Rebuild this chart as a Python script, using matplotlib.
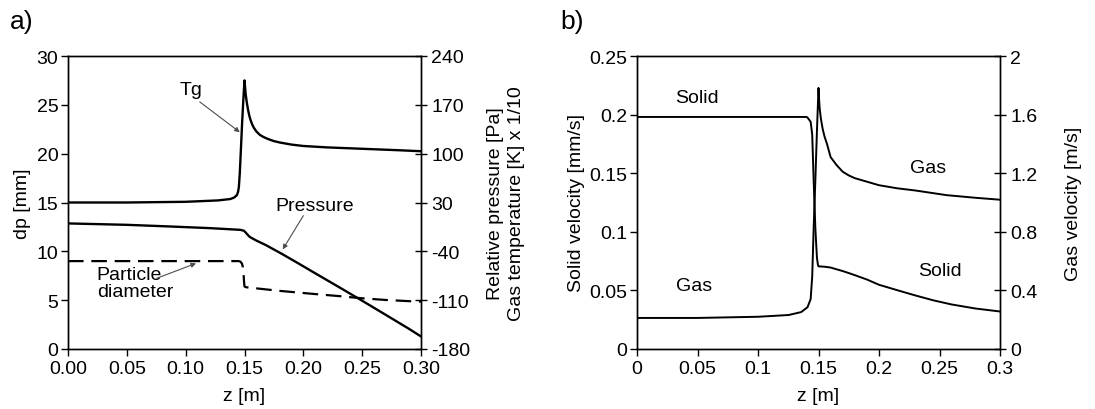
import numpy as np
import matplotlib
matplotlib.use("Agg")
import matplotlib.pyplot as plt

plt.rcParams['font.family'] = ['Liberation Sans', 'DejaVu Sans']
plt.rcParams['font.size'] = 14
plt.rcParams['axes.unicode_minus'] = False

# ---- panel a: bed profiles along z ----
z_tg = [0, 0.05, 0.10, 0.1276, 0.138, 0.1411, 0.1435, 0.1445, 0.1452, 0.146, 0.147, 0.148,
        0.149, 0.150, 0.1505, 0.151, 0.152, 0.153, 0.154, 0.155, 0.1565, 0.158, 0.160,
        0.163, 0.166, 0.170, 0.175, 0.180, 0.19, 0.20, 0.22, 0.25, 0.28, 0.30]
tg = [30, 30, 31, 33, 35, 37, 40.5, 45, 52, 72, 108, 145,
      177, 205, 195, 185, 173, 163, 155, 149, 142, 137, 132,
      127, 124, 121, 118, 116, 113, 111, 109, 107, 105, 103.5]   # K x 1/10

z_p = [0, 0.05, 0.087, 0.12, 0.1465, 0.1495, 0.151, 0.1525, 0.1546, 0.16, 0.1681, 0.1816,
       0.195, 0.2086, 0.23, 0.2492, 0.27, 0.2897, 0.30]
pressure = [0, -2, -4.4, -6.7, -9.2, -10.5, -13, -16, -19.5, -24.5, -31, -43.5,
            -56.5, -70, -91, -110, -131, -151, -162]   # Pa

z_dp = [0, 0.145, 0.1465, 0.1478, 0.1486, 0.1492, 0.1496, 0.1500, 0.1515, 0.18,
        0.2086, 0.23, 0.2492, 0.27, 0.2897, 0.30]
dp = [9.0, 9.0, 8.95, 8.75, 8.4, 7.7, 6.9, 6.4, 6.32, 5.95,
      5.64, 5.42, 5.2, 5.02, 4.9, 4.85]           # mm

# ---- panel b: velocities ----
z_gas = [0, 0.05, 0.1, 0.1253, 0.1357, 0.1409, 0.1435, 0.1448, 0.146, 0.1474, 0.1487,
         0.150, 0.1505, 0.151, 0.152, 0.1535, 0.155, 0.157, 0.16, 0.165, 0.17, 0.175,
         0.18, 0.19, 0.20, 0.215, 0.23, 0.256, 0.28, 0.30]
u_gas = [0.212, 0.212, 0.22, 0.232, 0.252, 0.285, 0.34, 0.494, 0.824, 1.154, 1.485,
         1.782, 1.70, 1.64, 1.57, 1.50, 1.45, 1.40, 1.31, 1.255, 1.21, 1.185,
         1.166, 1.142, 1.118, 1.097, 1.082, 1.05, 1.032, 1.019]   # m/s

z_sol = [0, 0.14, 0.1409, 0.1435, 0.1448, 0.146, 0.1474, 0.1487, 0.1495, 0.1500, 0.1505,
         0.155, 0.16, 0.165, 0.17, 0.175, 0.18, 0.19, 0.20, 0.215, 0.23, 0.245, 0.26,
         0.28, 0.30]
u_sol = [0.198, 0.198, 0.1975, 0.1939, 0.183, 0.144, 0.103, 0.078, 0.072, 0.0705, 0.0705,
         0.0702, 0.0695, 0.068, 0.0665, 0.0648, 0.063, 0.0593, 0.0548, 0.0502, 0.0457,
         0.0415, 0.038, 0.0345, 0.032]   # mm/s

fig = plt.figure(figsize=(10.95, 4.10), dpi=100)

arrow = dict(arrowstyle='-|>', color='0.3', lw=0.8, mutation_scale=7, shrinkA=0, shrinkB=0)


def style(ax, twin):
    for a in (ax, twin):
        for s in a.spines.values():
            s.set_linewidth(1.0)
    ax.tick_params(axis='y', direction='out', length=5, width=1, pad=2)
    ax.tick_params(axis='x', direction='out', length=5, width=1, pad=3)
    twin.tick_params(axis='y', direction='inout', length=9, width=1, pad=3)


# a)
ax1 = fig.add_axes([68 / 1095, 60 / 410, 353 / 1095, 293 / 410])
ax1r = ax1.twinx()
ax1.plot(z_dp, dp, color='black', lw=1.6, dashes=(7, 3.5))
ax1r.plot(z_tg, tg, color='black', lw=1.7)
ax1r.plot(z_p, pressure, color='black', lw=1.7)
ax1.set_xlim(0, 0.3)
ax1.set_ylim(0, 30)
ax1r.set_ylim(-180, 240)
ax1.set_xticks(np.arange(0, 0.31, 0.05))
ax1.set_xticklabels(['%.2f' % v for v in np.arange(0, 0.31, 0.05)])
ax1.set_yticks(range(0, 31, 5))
ax1r.set_yticks(range(-180, 241, 70))
ax1.set_xlabel('z [m]', labelpad=7)
ax1.set_ylabel('dp [mm]', labelpad=4)
ax1r.set_ylabel('Relative pressure [Pa]\nGas temperature [K] x 1/10', labelpad=12, linespacing=1.3)
style(ax1, ax1r)

ax1.text(0.105, 26.55, 'Tg', ha='center', va='center')
ax1.annotate('', xy=(0.146, 22.2), xytext=(0.112, 25.3), arrowprops=arrow)
ax1.text(0.21, 14.74, 'Pressure', ha='center', va='center')
ax1.annotate('', xy=(0.1825, 10.2), xytext=(0.2, 13.65), arrowprops=arrow)
ax1.text(0.0244, 6.8, 'Particle\ndiameter', ha='left', va='center', linespacing=1.0)
ax1.annotate('', xy=(0.1088, 8.77), xytext=(0.0754, 7.24), arrowprops=arrow)

# b)
ax2 = fig.add_axes([637 / 1095, 60 / 410, 363 / 1095, 293 / 410])
ax2r = ax2.twinx()
ax2.plot(z_sol, u_sol, color='black', lw=1.4)
ax2r.plot(z_gas, u_gas, color='black', lw=1.4)
ax2.set_xlim(0, 0.3)
ax2.set_ylim(0, 0.25)
ax2r.set_ylim(0, 2)
ax2.set_xticks([0, 0.05, 0.1, 0.15, 0.2, 0.25, 0.3])
ax2.set_xticklabels(['0', '0.05', '0.1', '0.15', '0.2', '0.25', '0.3'])
ax2.set_yticks([0, 0.05, 0.1, 0.15, 0.2, 0.25])
ax2.set_yticklabels(['0', '0.05', '0.1', '0.15', '0.2', '0.25'])
ax2r.set_yticks([0, 0.4, 0.8, 1.2, 1.6, 2])
ax2r.set_yticklabels(['0', '0.4', '0.8', '1.2', '1.6', '2'])
ax2.set_xlabel('z [m]', labelpad=7)
ax2.set_ylabel('Solid velocity [mm/s]', labelpad=3)
ax2r.set_ylabel('Gas velocity [m/s]', labelpad=20)
style(ax2, ax2r)

ax2.text(0.0496, 0.2148, 'Solid', ha='center', va='center')
ax2.text(0.047, 0.054, 'Gas', ha='center', va='center')
ax2.text(0.2408, 0.155, 'Gas', ha='center', va='center')
ax2.text(0.25, 0.0668, 'Solid', ha='center', va='center')

fig.text(10 / 1095, 1 - 22 / 410, 'a)', fontsize=19, va='center', ha='left')
fig.text(560 / 1095, 1 - 22 / 410, 'b)', fontsize=19, va='center', ha='left')

fig.savefig('out.png', dpi=100)
